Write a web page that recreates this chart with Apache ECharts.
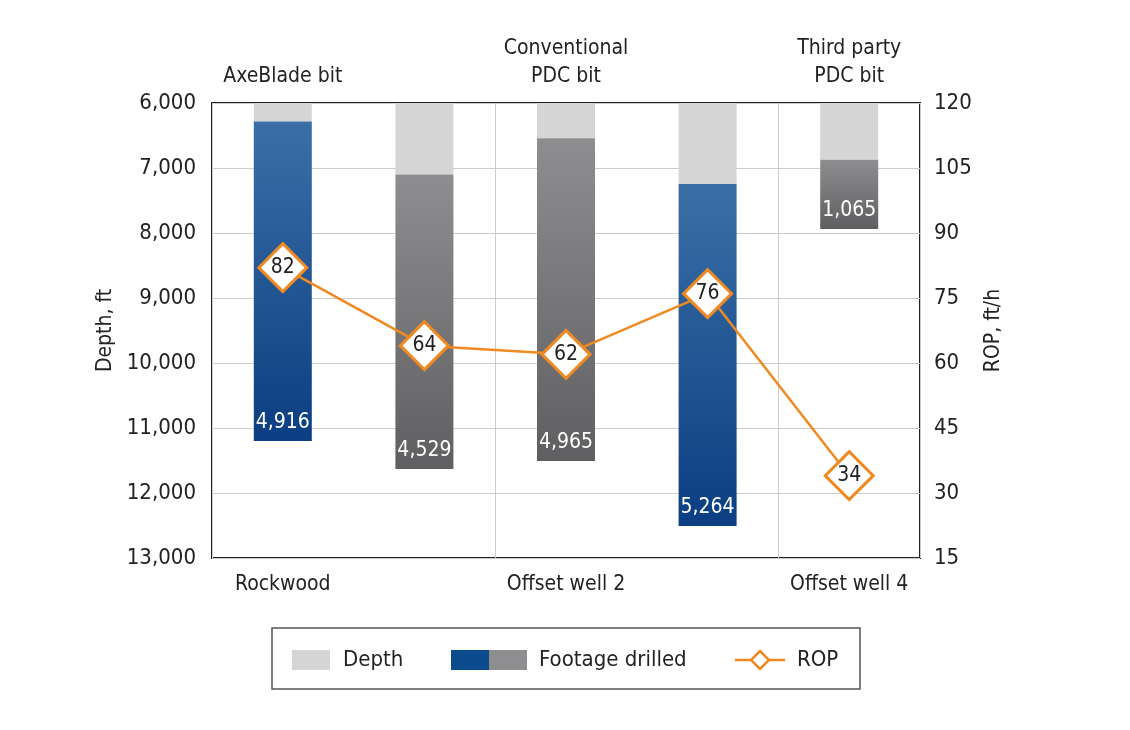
<!DOCTYPE html>
<html><head><meta charset="utf-8">
<script src="https://cdn.jsdelivr.net/npm/echarts@6/dist/echarts.min.js"></script>
<style>html,body{margin:0;background:#fff}#c{width:1130px;height:730px}</style>
</head><body><div id="c"></div>
<script>
const categories = ['Rockwood','Offset well 1','Offset well 2','Offset well 3','Offset well 4'];
const bitTypes = ['AxeBlade bit','Conventional\nPDC bit','Conventional\nPDC bit','AxeBlade bit','Third party\nPDC bit'];
const startDepth = [6284, 7100, 6543, 7245, 6873];
const footage = [4916, 4529, 4965, 5264, 1065];
const rop = [82, 64, 62, 76, 34];
const isAxeBlade = [true, false, false, true, false];

const F = "'Liberation Sans Narrow','DejaVu Sans Condensed','Roboto',sans-serif";
const blue = {type:'linear',x:0,y:0,x2:0,y2:1,colorStops:[{offset:0,color:'#3a6fa6'},{offset:1,color:'#0b3e82'}]};
const gray = {type:'linear',x:0,y:0,x2:0,y2:1,colorStops:[{offset:0,color:'#8e8e90'},{offset:1,color:'#5f5f62'}]};

const chart = echarts.init(document.getElementById('c'));
chart.setOption({
  animation:false,
  textStyle:{fontFamily:F},
  grid:{left:212,right:210,top:103,bottom:172,show:true,borderColor:'#222',borderWidth:2},
  xAxis:[
    {type:'category',data:categories,position:'bottom',axisLine:{show:false},axisTick:{show:false},
     axisLabel:{fontSize:21,color:'#222',margin:16,fontFamily:F},
     splitLine:{show:true,lineStyle:{color:'#ccc'}}},
    {type:'category',data:bitTypes,position:'top',axisLine:{show:false},axisTick:{show:false},
     axisLabel:{fontSize:21,color:'#222',margin:12,lineHeight:28,fontFamily:F}}
  ],
  yAxis:[
    {type:'value',inverse:true,min:6000,max:13000,interval:1000,name:'Depth, ft',nameLocation:'middle',nameGap:82,
     nameTextStyle:{fontSize:21,color:'#222',fontFamily:F},
     axisLine:{show:false},axisTick:{show:false},
     axisLabel:{fontSize:22,color:'#222',margin:16,fontFamily:F,formatter:v=>v.toLocaleString('en-US')},
     splitLine:{lineStyle:{color:'#ccc'}}},
    {type:'value',min:15,max:120,interval:15,name:'ROP, ft/h',nameLocation:'middle',nameGap:62,nameRotate:90,
     nameTextStyle:{fontSize:21,color:'#222',fontFamily:F},
     axisLine:{show:false},axisTick:{show:false},splitLine:{show:false},
     axisLabel:{fontSize:22,color:'#222',margin:14,fontFamily:F}}
  ],
  series:[
    {type:'bar',stack:'d',barWidth:58,data:startDepth.map(()=>6000),itemStyle:{color:'transparent'},silent:true},
    {type:'bar',stack:'d',data:startDepth.map(v=>v-6000),itemStyle:{color:'#d5d5d6'}},
    {type:'bar',stack:'d',data:footage.map((v,i)=>({value:v,itemStyle:{color:isAxeBlade[i]?blue:gray}})),
     label:{show:true,position:'insideBottom',distance:8,color:'#fff',fontSize:21,fontFamily:F,
       formatter:p=>p.value.toLocaleString('en-US')}},
    {type:'line',yAxisIndex:1,data:rop,symbol:'diamond',symbolSize:48,
     lineStyle:{color:'#ef8a22',width:2.5},
     itemStyle:{color:'#fff',borderColor:'#ef8a22',borderWidth:3},
     label:{show:true,position:'inside',fontSize:21,color:'#222',fontFamily:F},z:10}
  ],
  graphic:[
    {type:'rect',shape:{x:272,y:628,width:588,height:61},style:{fill:'#fff',stroke:'#555',lineWidth:1.5}},
    {type:'rect',shape:{x:292,y:650,width:38,height:20},style:{fill:'#d5d5d6'}},
    {type:'text',x:343,y:660,style:{text:'Depth',font:"22px "+F,fill:'#222',textVerticalAlign:'middle'}},
    {type:'rect',shape:{x:451,y:650,width:38,height:20},style:{fill:'#0b4a8c'}},
    {type:'rect',shape:{x:489,y:650,width:38,height:20},style:{fill:'#8e8e90'}},
    {type:'text',x:539,y:660,style:{text:'Footage drilled',font:"22px "+F,fill:'#222',textVerticalAlign:'middle'}},
    {type:'line',shape:{x1:735,y1:660,x2:785,y2:660},style:{stroke:'#ef8a22',lineWidth:2.5}},
    {type:'polygon',shape:{points:[[760,651],[769,660],[760,669],[751,660]]},style:{fill:'#fff',stroke:'#ef8a22',lineWidth:2.5}},
    {type:'text',x:797,y:660,style:{text:'ROP',font:"22px "+F,fill:'#222',textVerticalAlign:'middle'}}
  ]
});
</script></body></html>
